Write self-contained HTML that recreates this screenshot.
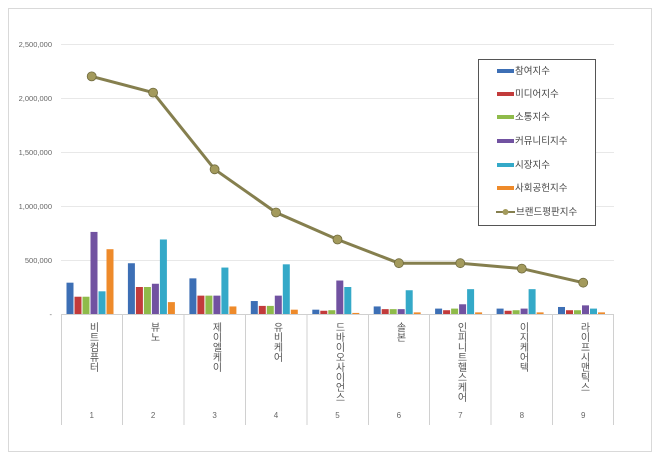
<!DOCTYPE html>
<html><head><meta charset="utf-8"><style>
body{margin:0;background:#fff;width:660px;height:459px;overflow:hidden;font-family:"Liberation Sans","Noto Sans CJK KR",sans-serif}
.v{position:absolute;top:322px;width:14px;writing-mode:vertical-rl;text-orientation:upright;font-size:10px;color:#555;line-height:14px;letter-spacing:0px;font-family:"Liberation Sans","Noto Sans CJK KR",sans-serif}
</style></head><body>
<svg width="660" height="459" style="position:absolute;left:0;top:0" font-family="Liberation Sans, Noto Sans CJK KR, sans-serif">
<rect x="8.5" y="8.5" width="643" height="443" fill="#fff" stroke="#d9d9d9"/>
<g stroke="#e8e8e8" stroke-width="1">
<line x1="61" x2="614" y1="44.5" y2="44.5"/><line x1="61" x2="614" y1="98.5" y2="98.5"/><line x1="61" x2="614" y1="152.5" y2="152.5"/><line x1="61" x2="614" y1="206.5" y2="206.5"/><line x1="61" x2="614" y1="260.5" y2="260.5"/>
</g>
<g stroke="#d0d0d0">
<line x1="61" x2="614" y1="314.5" y2="314.5"/>
<line x1="61.5" x2="61.5" y1="314" y2="425"/><line x1="122.5" x2="122.5" y1="314" y2="425"/><line x1="184" x2="184" y1="314" y2="425"/><line x1="245.5" x2="245.5" y1="314" y2="425"/><line x1="307" x2="307" y1="314" y2="425"/><line x1="368.5" x2="368.5" y1="314" y2="425"/><line x1="429.5" x2="429.5" y1="314" y2="425"/><line x1="491" x2="491" y1="314" y2="425"/><line x1="552.5" x2="552.5" y1="314" y2="425"/><line x1="613.5" x2="613.5" y1="314" y2="425"/>
</g>
<g font-size="7.5" fill="#666" text-anchor="end">
<text x="52" y="47">2,500,000</text><text x="52" y="101">2,000,000</text><text x="52" y="155">1,500,000</text><text x="52" y="209">1,000,000</text><text x="52" y="263">500,000</text><text x="52" y="317">-</text>
</g>
<defs>
<g id="c"></g>
</defs>
<g transform="translate(66.5,314) scale(1,-0.000108)"><rect x="0" width="7" height="290000" fill="#3d6fb5"/><rect x="8" width="7" height="160000" fill="#c23b3b"/><rect x="16" width="7" height="160000" fill="#8fbb4a"/><rect x="24" width="7" height="760000" fill="#7152a1"/><rect x="32" width="7" height="210000" fill="#34a9c8"/><rect x="40" width="7" height="600000" fill="#ee8a2a"/></g>
<g transform="translate(127.9,314) scale(1,-0.000108)"><rect x="0" width="7" height="470000" fill="#3d6fb5"/><rect x="8" width="7" height="250000" fill="#c23b3b"/><rect x="16" width="7" height="250000" fill="#8fbb4a"/><rect x="24" width="7" height="280000" fill="#7152a1"/><rect x="32" width="7" height="690000" fill="#34a9c8"/><rect x="40" width="7" height="110000" fill="#ee8a2a"/></g>
<g transform="translate(189.4,314) scale(1,-0.000108)"><rect x="0" width="7" height="330000" fill="#3d6fb5"/><rect x="8" width="7" height="170000" fill="#c23b3b"/><rect x="16" width="7" height="170000" fill="#8fbb4a"/><rect x="24" width="7" height="170000" fill="#7152a1"/><rect x="32" width="7" height="430000" fill="#34a9c8"/><rect x="40" width="7" height="70000" fill="#ee8a2a"/></g>
<g transform="translate(250.8,314) scale(1,-0.000108)"><rect x="0" width="7" height="120000" fill="#3d6fb5"/><rect x="8" width="7" height="75000" fill="#c23b3b"/><rect x="16" width="7" height="75000" fill="#8fbb4a"/><rect x="24" width="7" height="170000" fill="#7152a1"/><rect x="32" width="7" height="460000" fill="#34a9c8"/><rect x="40" width="7" height="40000" fill="#ee8a2a"/></g>
<g transform="translate(312.3,314) scale(1,-0.000108)"><rect x="0" width="7" height="40000" fill="#3d6fb5"/><rect x="8" width="7" height="30000" fill="#c23b3b"/><rect x="16" width="7" height="35000" fill="#8fbb4a"/><rect x="24" width="7" height="310000" fill="#7152a1"/><rect x="32" width="7" height="250000" fill="#34a9c8"/><rect x="40" width="7" height="10000" fill="#ee8a2a"/></g>
<g transform="translate(373.7,314) scale(1,-0.000108)"><rect x="0" width="7" height="70000" fill="#3d6fb5"/><rect x="8" width="7" height="45000" fill="#c23b3b"/><rect x="16" width="7" height="45000" fill="#8fbb4a"/><rect x="24" width="7" height="45000" fill="#7152a1"/><rect x="32" width="7" height="220000" fill="#34a9c8"/><rect x="40" width="7" height="15000" fill="#ee8a2a"/></g>
<g transform="translate(435.1,314) scale(1,-0.000108)"><rect x="0" width="7" height="50000" fill="#3d6fb5"/><rect x="8" width="7" height="35000" fill="#c23b3b"/><rect x="16" width="7" height="50000" fill="#8fbb4a"/><rect x="24" width="7" height="90000" fill="#7152a1"/><rect x="32" width="7" height="230000" fill="#34a9c8"/><rect x="40" width="7" height="15000" fill="#ee8a2a"/></g>
<g transform="translate(496.6,314) scale(1,-0.000108)"><rect x="0" width="7" height="50000" fill="#3d6fb5"/><rect x="8" width="7" height="30000" fill="#c23b3b"/><rect x="16" width="7" height="35000" fill="#8fbb4a"/><rect x="24" width="7" height="50000" fill="#7152a1"/><rect x="32" width="7" height="230000" fill="#34a9c8"/><rect x="40" width="7" height="15000" fill="#ee8a2a"/></g>
<g transform="translate(558,314) scale(1,-0.000108)"><rect x="0" width="7" height="65000" fill="#3d6fb5"/><rect x="8" width="7" height="35000" fill="#c23b3b"/><rect x="16" width="7" height="35000" fill="#8fbb4a"/><rect x="24" width="7" height="80000" fill="#7152a1"/><rect x="32" width="7" height="50000" fill="#34a9c8"/><rect x="40" width="7" height="15000" fill="#ee8a2a"/></g>
<polyline fill="none" stroke="#857f4e" stroke-width="3" points="91.7,76.4 153.1,92.6 214.6,169.3 276,212.5 337.5,239.5 398.9,263.2 460.3,263.2 521.8,268.6 583.2,282.7"/>
<g fill="#a39a5c" stroke="#6f6a3e" stroke-width="0.8">
<circle cx="91.7" cy="76.4" r="4.5"/><circle cx="153.1" cy="92.6" r="4.5"/><circle cx="214.6" cy="169.3" r="4.5"/><circle cx="276" cy="212.5" r="4.5"/><circle cx="337.5" cy="239.5" r="4.5"/><circle cx="398.9" cy="263.2" r="4.5"/><circle cx="460.3" cy="263.2" r="4.5"/><circle cx="521.8" cy="268.6" r="4.5"/><circle cx="583.2" cy="282.7" r="4.5"/>
</g>
<g font-size="8" fill="#666" text-anchor="middle">
<text x="91.7" y="418">1</text><text x="153.1" y="418">2</text><text x="214.6" y="418">3</text><text x="276" y="418">4</text><text x="337.5" y="418">5</text><text x="398.9" y="418">6</text><text x="460.3" y="418">7</text><text x="521.8" y="418">8</text><text x="583.2" y="418">9</text>
</g>
<rect x="478.5" y="59.5" width="117" height="166" fill="#fff" stroke="#555"/>
<g font-size="9.5" fill="#444">
<rect x="497" y="69" width="17" height="4" fill="#3d6fb5"/><text x="515" y="74">참여지수</text>
<rect x="497" y="92" width="17" height="4" fill="#c23b3b"/><text x="515" y="97">미디어지수</text>
<rect x="497" y="115" width="17" height="4" fill="#8fbb4a"/><text x="515" y="120">소통지수</text>
<rect x="497" y="139" width="17" height="4" fill="#7152a1"/><text x="515" y="144">커뮤니티지수</text>
<rect x="497" y="163" width="17" height="4" fill="#34a9c8"/><text x="515" y="168">시장지수</text>
<rect x="497" y="186" width="17" height="4" fill="#ee8a2a"/><text x="515" y="191">사회공헌지수</text>
<line x1="496" x2="515" y1="212" y2="212" stroke="#857f4e" stroke-width="2"/><circle cx="505.5" cy="212" r="3" fill="#a39a5c"/><text x="516" y="215">브랜드평판지수</text>
</g>
</svg>
<div class="v" style="left:85px">비트컴퓨터</div>
<div class="v" style="left:146px">뷰노</div>
<div class="v" style="left:208px">제이엘케이</div>
<div class="v" style="left:269px">유비케어</div>
<div class="v" style="left:331px">드바이오사이언스</div>
<div class="v" style="left:392px">솔본</div>
<div class="v" style="left:453px">인피니트헬스케어</div>
<div class="v" style="left:515px">이지케어텍</div>
<div class="v" style="left:576px">라이프시맨틱스</div>
</body></html>
